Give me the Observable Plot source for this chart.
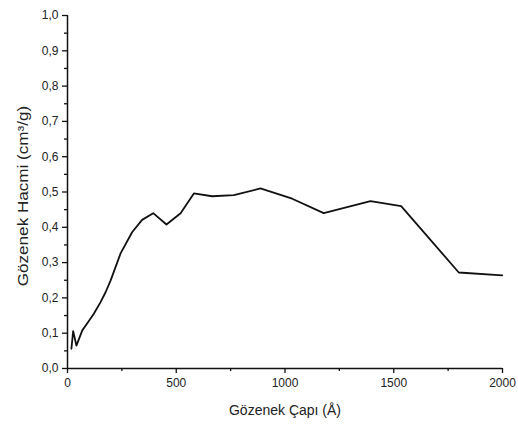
<!DOCTYPE html>
<html><head><meta charset="utf-8">
<script src="https://cdn.jsdelivr.net/npm/d3@7"></script>
<script src="https://cdn.jsdelivr.net/npm/@observablehq/plot@0.6"></script>
<style>body{margin:0;background:#fff} #chart svg{font-family:"Liberation Sans",Arial,sans-serif;background:#fff}</style>
</head><body><div id="chart"></div><script>
const poreDiameter = [18, 26, 41, 68, 91, 121, 152, 175, 198, 244, 297, 343, 394, 455, 520, 581, 665, 765, 887, 1033, 1178, 1393, 1534, 1799, 1999];
const poreVolume   = [0.056, 0.106, 0.065, 0.108, 0.128, 0.155, 0.188, 0.216, 0.249, 0.326, 0.386, 0.421, 0.440, 0.408, 0.440, 0.496, 0.488, 0.491, 0.510, 0.481, 0.440, 0.474, 0.460, 0.272, 0.264];
const xTicks = [0, 500, 1000, 1500, 2000];
const xMinorTicks = [250, 750, 1250, 1750];
const yTicks = [0, 0.1, 0.2, 0.3, 0.4, 0.5, 0.6, 0.7, 0.8, 0.9, 1.0];
const yMinorTicks = [0.05, 0.15, 0.25, 0.35, 0.45, 0.55, 0.65, 0.75, 0.85, 0.95];
const xLabel = "Gözenek Çapı (Å)";
const yLabel = "Gözenek Hacmi (cm³/g)";

const data = poreDiameter.map((x, i) => ({x, y: poreVolume[i]}));
const fmt = d => d.toFixed(1).replace(".", ",");

const chart = Plot.plot({
  width: 518, height: 431,
  marginLeft: 67, marginRight: 16, marginTop: 15, marginBottom: 63,
  x: {domain: [0, 2000]},
  y: {domain: [0, 1]},
  marks: [
    Plot.axisX(xMinorTicks, {tickSize: 3, text: null, label: null, stroke: "#111", strokeWidth: 1.3}),
    Plot.axisX(xTicks, {tickSize: 5, tickPadding: 5, fontSize: 12, fill: "#222", tickFormat: d => String(d), label: null, stroke: "#111", strokeWidth: 1.3}),
    Plot.axisY(yMinorTicks, {tickSize: 3, text: null, label: null, stroke: "#111", strokeWidth: 1.3}),
    Plot.axisY(yTicks, {tickSize: 5, tickPadding: 4, fontSize: 12, fill: "#222", tickFormat: fmt, label: null, stroke: "#111", strokeWidth: 1.3}),
    Plot.ruleX([0], {stroke: "#111", strokeWidth: 1.5}),
    Plot.ruleY([0], {stroke: "#111", strokeWidth: 1.5}),
    Plot.lineY(data, {x: "x", y: "y", stroke: "#111", strokeWidth: 1.8}),
    Plot.text([xLabel], {frameAnchor: "bottom", dy: 42, fontSize: 14, fill: "#222", lineAnchor: "middle"}),
    Plot.text([yLabel], {frameAnchor: "left", dx: -44, dy: 4, rotate: -90, fontSize: 14.5, fill: "#222", textAnchor: "middle", lineAnchor: "middle", className: "ylab"})
  ]
});
document.getElementById("chart").append(chart);
chart.querySelectorAll("text").forEach(t => {
  if (t.textContent === yLabel) {
    const tr = t.getAttribute("transform") || "";
    t.setAttribute("transform", tr + " scale(1.18,1)");
  }
});
</script></body></html>
